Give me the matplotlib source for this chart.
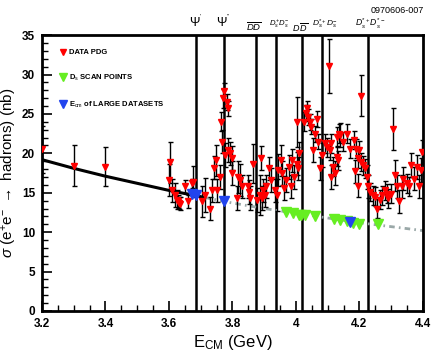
import numpy as np
import matplotlib.pyplot as plt
from matplotlib.lines import Line2D
from matplotlib.ticker import MultipleLocator

plt.rcParams['font.family'] = ['Liberation Sans', 'DejaVu Sans']
plt.rcParams['mathtext.fontset'] = 'custom'
plt.rcParams['mathtext.rm'] = 'Liberation Sans'
plt.rcParams['mathtext.it'] = 'Liberation Sans:italic'
plt.rcParams['mathtext.bf'] = 'Liberation Sans:bold'

# PDG R-scan data (E_cm in GeV, sigma in nb, error in nb)
pdg_E = [3.200, 3.300, 3.400, 3.601, 3.603, 3.608, 3.619, 3.624, 3.629, 3.632, 3.635,
         3.650, 3.661, 3.671, 3.675, 3.703, 3.713, 3.729, 3.734, 3.743, 3.748, 3.752,
         3.761, 3.764, 3.766, 3.771, 3.773, 3.776, 3.782, 3.785, 3.787, 3.792, 3.797,
         3.800, 3.813, 3.816, 3.824, 3.829, 3.850, 3.853, 3.856, 3.866, 3.876, 3.887,
         3.889, 3.892, 3.897, 3.902, 3.906, 3.916, 3.923, 3.934, 3.939, 3.942, 3.953,
         3.957, 3.963, 3.968, 3.979, 3.983, 3.987, 3.995, 4.002, 4.004, 4.007, 4.010,
         4.026, 4.031, 4.036, 4.039, 4.044, 4.049, 4.053, 4.060, 4.065, 4.070, 4.076,
         4.081, 4.091, 4.099, 4.105, 4.107, 4.110, 4.112, 4.118, 4.123, 4.128, 4.130,
         4.133, 4.136, 4.139, 4.149, 4.160, 4.170, 4.184, 4.186, 4.188, 4.194, 4.196,
         4.200, 4.204, 4.205, 4.212, 4.217, 4.223, 4.226, 4.233, 4.243, 4.249, 4.254,
         4.265, 4.270, 4.280, 4.286, 4.291, 4.301, 4.306, 4.312, 4.317, 4.324, 4.333,
         4.338, 4.349, 4.356, 4.362, 4.373, 4.380, 4.387, 4.394, 4.398]
pdg_sig = [20.5, 18.4, 18.3, 16.6, 18.9, 15.3, 14.7, 14.1, 13.9, 13.7, 13.6,
           15.8, 13.9, 16.2, 16.4, 13.9, 14.7, 13.0, 15.3, 18.2, 19.1, 15.3,
           17.0, 24.0, 21.5, 27.0, 27.9, 19.8, 26.5, 25.7, 20.4, 20.0, 19.4,
           17.5, 14.3, 17.0, 16.6, 15.8, 15.8, 15.1, 14.3, 18.7, 14.1, 14.7,
           19.4, 14.3, 15.3, 14.7, 15.8, 18.1, 16.6, 15.3, 14.7, 17.9, 19.1,
           17.5, 15.6, 16.6, 18.3, 15.8, 19.1, 17.0, 24.0, 18.7, 18.1, 20.0,
           24.0, 25.1, 25.7, 24.6, 24.0, 23.4, 20.4, 22.5, 24.4, 21.5, 18.1,
           19.8, 21.3, 20.8, 31.1, 20.4, 17.0, 21.3, 18.3, 17.5, 22.1, 19.6,
           19.1, 22.5, 22.3, 21.5, 22.5, 20.6, 21.7, 17.7, 20.6, 15.9, 19.4,
           20.4, 27.3, 18.9, 18.5, 18.1, 17.0, 15.8, 15.1, 14.7, 14.5, 13.0,
           14.1, 14.7, 15.3, 14.9, 14.3, 14.9, 23.1, 17.2, 15.8, 13.9, 15.8,
           16.8, 16.2, 15.8, 18.5, 16.8, 18.3, 15.8, 17.9, 20.2]
pdg_err = [3.0, 2.6, 2.5, 2.0, 2.6, 1.5, 1.5, 1.2, 0.8, 0.8, 0.8,
           0.8, 0.8, 0.6, 2.0, 2.0, 2.2, 1.5, 1.5, 1.5, 2.0, 1.5,
           1.5, 1.2, 1.5, 1.2, 1.0, 1.5, 1.0, 1.0, 1.5, 1.5, 1.5,
           1.5, 1.5, 2.0, 2.0, 1.5, 1.5, 1.5, 1.5, 2.5, 1.5, 2.5,
           1.5, 1.5, 1.5, 1.5, 1.5, 1.5, 1.5, 1.5, 2.0, 2.0, 2.0,
           1.5, 1.5, 1.5, 1.5, 1.5, 1.5, 1.5, 3.2, 1.5, 1.5, 1.5,
           1.2, 1.0, 1.0, 1.0, 1.0, 1.0, 1.5, 1.0, 1.0, 1.0, 1.5,
           1.5, 1.2, 1.2, 3.4, 1.2, 1.5, 1.2, 1.2, 1.5, 1.2, 1.2,
           1.2, 1.2, 1.5, 1.2, 1.2, 1.2, 1.2, 1.5, 1.2, 1.5, 1.2,
           1.2, 2.6, 1.2, 1.2, 1.2, 1.5, 1.5, 1.2, 1.2, 1.2, 1.2,
           1.2, 1.2, 1.2, 1.2, 1.2, 1.2, 2.7, 2.0, 1.5, 1.5, 1.5,
           1.5, 1.2, 1.2, 1.5, 1.5, 1.5, 1.5, 1.5, 1.5]

# D_s scan points
scan_E = [3.970, 3.990, 4.010, 4.015, 4.030, 4.060, 4.120, 4.140, 4.160, 4.180, 4.200, 4.260]
scan_sig = [12.6, 12.4, 12.2, 12.2, 12.2, 12.0, 11.7, 11.5, 11.4, 11.2, 11.1, 11.0]

# E_cm of large datasets
large_E = [3.671, 3.686, 3.773, 4.170]
large_sig = [14.8, 14.7, 14.0, 11.3]

# fitted continuum (solid part) and its extrapolation (dotted part)
fit_E = [3.20, 3.30, 3.40, 3.50, 3.60, 3.713]
fit_sig = [19.2, 18.1, 17.1, 16.2, 15.3, 14.4]
ext_E = [3.713, 3.80, 3.90, 4.00, 4.10, 4.20, 4.30, 4.40]
ext_sig = [14.4, 13.7, 13.0, 12.4, 11.8, 11.2, 10.7, 10.2]

# thresholds / resonances
thr_E = [3.686, 3.773, 3.875, 3.937, 4.020, 4.083, 4.228]
thr_lab = [r"$\Psi^{'}$", r"$\Psi^{''}$", r"$\overline{DD}$", r"$D_s^{+}D_s^{-}$",
           r"$D\,\overline{D}$", r"$D_s^{*+}D_s^{-}$", r"$D_s^{*+}D_s^{*-}$"]
thr_lab_x = [3.686, 3.773, 3.868, 3.947, 4.012, 4.090, 4.234]
thr_lab_y = [36.0, 36.0, 35.5, 36.1, 35.5, 36.1, 36.1]
thr_lab_size = [9, 9, 6.8, 5.6, 6.5, 6.0, 6.2]

fig = plt.figure(figsize=(4.36, 3.55), dpi=100)
ax = fig.add_axes([0.0963, 0.124, 0.8737, 0.777])

for e in thr_E:
    ax.axvline(e, color='black', lw=1.8, zorder=1)

ax.plot(fit_E, fit_sig, color='black', lw=2.2, zorder=2)
ax.plot(ext_E, ext_sig, color='#9aa8a8', lw=2, ls=(0, (2, 1.5, 0.6, 1.5)), zorder=2)

ax.errorbar(pdg_E, pdg_sig, yerr=pdg_err, fmt='v', color='red', ms=4.5,
            ecolor='black', elinewidth=1, capsize=1.8, capthick=1, zorder=3)
ax.plot(scan_E, scan_sig, 'v', color='#66ee22', ms=6.5, zorder=4)
ax.plot(large_E, large_sig, 'v', color='#2244ee', ms=6.5, zorder=5)

for e, lab, yy, fs in zip(thr_lab_x, thr_lab, thr_lab_y, thr_lab_size):
    ax.text(e, yy, lab, ha='center', va='baseline', fontsize=fs, fontweight='bold',
            clip_on=False)

ax.text(4.403, 37.6, '0970606-007', ha='right', va='bottom', fontsize=6.5)

ax.set_xlim(3.2, 4.4)
ax.set_ylim(0, 35)
ax.xaxis.set_major_locator(MultipleLocator(0.2))
ax.xaxis.set_minor_locator(MultipleLocator(0.05))
ax.yaxis.set_major_locator(MultipleLocator(5))
ax.yaxis.set_minor_locator(MultipleLocator(1))
ax.set_xticks([3.2, 3.4, 3.6, 3.8, 4.0, 4.2, 4.4])
ax.set_xticklabels(['3.2', '3.4', '3.6', '3.8', '4', '4.2', '4.4'])
ax.tick_params(which='both', direction='in', labelsize=8.5)
ax.tick_params(which='major', length=7, width=1.2, pad=5)
ax.tick_params(which='minor', length=4, width=1)
for lab in ax.get_xticklabels() + ax.get_yticklabels():
    lab.set_fontweight('bold')
for s in ax.spines.values():
    s.set_linewidth(2)

ax.set_xlabel(r'E$_{\rm CM}$ (GeV)', fontsize=12, labelpad=2)
ax.set_ylabel(r'$\sigma$ (e$^{+}$e$^{-}$ $\rightarrow$ hadrons) (nb)', fontsize=11, labelpad=2)

handles = [Line2D([], [], marker='v', ls='none', color='red', ms=5),
           Line2D([], [], marker='v', ls='none', color='#66ee22', ms=6),
           Line2D([], [], marker='v', ls='none', color='#2244ee', ms=6)]
labels = ['DATA PDG', r'D$_{\rm s}$ SCAN POINTS', r'E$_{\rm cm}$ of LARGE DATASETS']
leg = ax.legend(handles, labels, loc='upper left', bbox_to_anchor=(0.025, 0.975),
                frameon=False, prop={'size': 5.5, 'weight': 'bold'},
                labelspacing=2.2, handletextpad=0.2, handlelength=1.2)

fig.savefig('out.png', dpi=100)
